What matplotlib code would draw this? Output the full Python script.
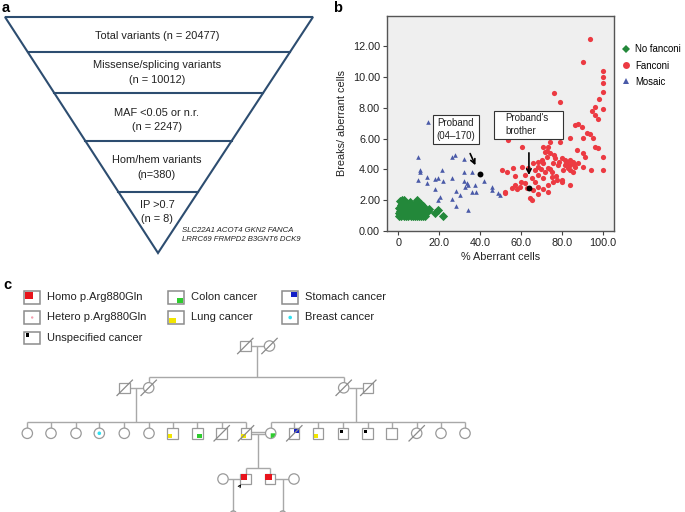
import numpy as np
import matplotlib.pyplot as plt
from matplotlib.patches import Rectangle, Circle, Wedge, Polygon
from matplotlib.lines import Line2D

plt.rcParams['font.family'] = ['Liberation Sans', 'DejaVu Sans']

# ---------------- data: panel a (filtering funnel) ----------------
funnel_text = [
    ["Total variants (n = 20477)"],
    ["Missense/splicing variants", "(n = 10012)"],
    ["MAF <0.05 or n.r.", "(n = 2247)"],
    ["Hom/hem variants", "(n=380)"],
    ["IP >0.7", "(n = 8)"],
]
candidate_genes = ["SLC22A1 ACOT4 GKN2 FANCA", "LRRC69 FRMPD2 B3GNT6 DCK9"]

# ---------------- data: panel b (chromosome breakage) ----------------
no_fanconi_x = [0.5, 1.5, 3, 4, 5, 6, 7, 8, 9, 10, 11, 12, 13,
                1, 2.5, 5, 7.5, 10, 12,
                0.5, 2, 3.5, 5, 6.5, 8, 9.5, 11, 12.5, 18,
                1, 2.5, 4, 5.5, 7, 8.5, 10, 11.5, 13, 14.5, 19.6,
                0.5, 2, 3.5, 5, 6.5, 8, 9.5, 11, 12.5, 15,
                3, 6, 9, 12, 1.5, 4.5, 7.5, 10.5, 2, 5, 8, 11,
                0.8, 1.8, 2.8, 5.7, 9, 22]
no_fanconi_y = [1.0, 1.0, 1.0, 1.0, 1.0, 1.0, 1.0, 1.0, 1.0, 1.0, 1.0, 1.0, 1.0,
                1.1, 1.1, 1.1, 1.1, 1.1, 1.1,
                1.2, 1.2, 1.2, 1.2, 1.2, 1.2, 1.2, 1.2, 1.2, 1.19,
                1.33, 1.33, 1.33, 1.33, 1.33, 1.33, 1.33, 1.33, 1.33, 1.3, 1.36,
                1.5, 1.5, 1.5, 1.5, 1.5, 1.5, 1.5, 1.5, 1.5, 1.45,
                1.6, 1.6, 1.6, 1.6, 1.67, 1.67, 1.67, 1.67, 1.75, 1.75, 1.75, 1.75,
                1.95, 2.0, 2.0, 1.85, 2.0, 0.97]

fanconi_x = [93.8, 90.1, 100, 100, 100, 100, 76.2, 79.2, 98.2, 96.3, 94.7, 100, 96.3, 97.9,
             86.5, 88.1, 89.8, 92.2, 93.8, 84.0, 90.5, 95.4, 53.8, 79.1, 71.0, 73.4, 60.4,
             96.2, 97.9, 87.3, 71.8, 74.2, 90.5, 91.3, 100, 72.6, 76.7, 79.9, 81.6, 84.0,
             85.6, 68.5, 66.1, 71.0, 75.9, 78.3, 81.6, 84.0, 86.5, 90.5, 94.3, 100, 50.6,
             53.0, 56.3, 60.4, 63.6, 68.5, 73.4, 66.9, 71.8, 75.0, 80.7, 84.0, 85.6, 62.0,
             68.5, 75.0, 65.2, 71.0, 77.5, 79.9, 66.9, 75.9, 84.0, 62.0, 57.1, 59.5, 55.5,
             68.5, 71.0, 52.2, 52.2, 66.1, 73.4, 68.5, 64.4, 65.2,
             69.3, 74.2, 72.5, 76.0, 82.0, 88.0, 83.0, 70.0, 77.0, 80.0, 73.0, 63.0, 58.0,
             60.0, 57.0, 78.5, 82.5, 86.0, 70.5, 74.0]
fanconi_y = [12.43, 10.98, 10.39, 10.0, 9.62, 8.99, 8.97, 8.38, 8.56, 8.02, 7.8, 7.89, 7.52, 7.24,
             6.87, 6.94, 6.77, 6.33, 6.27, 6.05, 6.01, 6.01, 5.9, 5.79, 5.47, 5.47, 5.47,
             5.47, 5.36, 5.25, 5.14, 5.04, 5.04, 4.82, 4.82, 4.82, 4.71, 4.71, 4.6, 4.6,
             4.5, 4.5, 4.39, 4.39, 4.39, 4.28, 4.28, 4.28, 4.17, 4.17, 3.96, 3.96, 3.96,
             3.85, 4.11, 4.17, 4.06, 4.17, 4.11, 3.96, 3.85, 3.85, 3.96, 3.96, 3.85, 3.63,
             3.63, 3.52, 3.42, 3.42, 3.31, 3.16, 3.16, 3.16, 2.98, 3.09, 2.98, 2.88, 2.77,
             2.88, 2.7, 2.55, 2.44, 2.66, 2.55, 2.38, 2.16, 2.01,
             6.12, 5.75, 5.2, 4.9, 4.4, 4.4, 4.1, 4.0, 3.6, 3.3, 3.0, 2.8, 2.7,
             3.2, 3.6, 4.5, 4.5, 4.35, 4.6, 4.0]

mosaic_x = [9.8, 27.7, 26.1, 32.1, 10.6, 10.4, 21.2, 32.1, 35.9, 9.8, 14.2, 14.2, 18.0, 19.6,
            22.0, 26.1, 32.1, 33.5, 32.6, 37.5, 34.2, 41.9, 18.0, 28.2, 36.2, 38.0, 20.4,
            19.6, 30.2, 26.1, 28.2, 34.2, 45.7, 45.7, 48.6, 49.8, 14.7]
mosaic_y = [4.82, 4.93, 4.82, 4.67, 3.96, 3.8, 3.96, 3.85, 3.85, 3.31, 3.52, 3.09, 3.35, 3.42,
            3.26, 3.46, 3.26, 3.09, 2.87, 2.98, 2.98, 3.26, 2.70, 2.59, 2.55, 2.55, 2.23,
            2.01, 2.32, 2.07, 1.64, 1.36, 2.83, 2.66, 2.48, 2.33, 7.09]

proband = (40.1, 3.70)
brother = (64.1, 2.81)

# ---------------- data: panel c (pedigree) ----------------
legend_items = [("Homo p.Arg880Gln", "homo"), ("Hetero p.Arg880Gln", "hetero"),
                ("Unspecified cancer", "unspec"), ("Colon cancer", "colon"),
                ("Lung cancer", "lung"), ("Stomach cancer", "stomach"),
                ("Breast cancer", "breast")]
# generation III: sex, deceased, phenotype
gen3 = [("F", 0, None), ("F", 0, None), ("F", 0, None), ("F", 0, "breast"), ("F", 0, None),
        ("F", 0, None), ("M", 0, "lung"), ("M", 0, "colon"), ("M", 1, None), ("M", 1, "lung"),
        ("F", 0, "colon"), ("M", 1, "stomach"), ("M", 0, "lung"), ("M", 0, "unspec"),
        ("M", 0, "unspec"), ("M", 0, None), ("F", 1, None), ("F", 0, None), ("F", 0, None)]
gen3_x = [27.3, 51, 76, 99.3, 124.3, 149, 172.7, 197.3, 221.7, 246,
          270.7, 294.3, 318.3, 343.3, 367.7, 391.7, 416.7, 441, 465]

mark_colors = {"homo": "#e8141c", "hetero": "#f4a0b0", "colon": "#2ecc2e", "lung": "#f2e600",
               "stomach": "#1420c8", "breast": "#30e0f0", "unspec": "black"}

LINE = "#a8a8a8"
EDGE = "#9a9a9a"
FUNNEL = "#2d4d70"

fig = plt.figure(figsize=(6.85, 5.12), dpi=100)
cv = fig.add_axes([0, 0, 1, 1])
cv.set_xlim(0, 685)
cv.set_ylim(512, 0)
cv.axis('off')

# ================= panel a =================
cv.text(2, 8, "a", fontsize=10.5, fontweight='bold', va='center', ha='left')
top_y, apex_y = 17, 253
left_x, right_x, apex_x = 5, 313, 158


def edge_x(y):
    f = (y - top_y) / (apex_y - top_y)
    return left_x + f * (apex_x - left_x), right_x - f * (right_x - apex_x)


cv.add_patch(Polygon([(left_x, top_y), (right_x, top_y), (apex_x, apex_y)], closed=True,
                     fill=False, ec=FUNNEL, lw=1.5, joinstyle='miter'))
cut_y = [52, 93, 141, 192]
for y in cut_y:
    xl, xr = edge_x(y)
    cv.plot([xl, xr], [y, y], color=FUNNEL, lw=1.5)

text_centres = [[36], [65, 80], [113, 127], [160, 175], [205, 219]]
for lines, ys in zip(funnel_text, text_centres):
    for s, y in zip(lines, ys):
        cv.text(157, y, s, fontsize=7.9, ha='center', va='center', color='#222222')
for i, g in enumerate(candidate_genes):
    cv.text(182, 230 + i * 9.5, g, fontsize=5.6, style='italic', ha='left', va='center',
            color='#222222')

# ================= panel b =================
cv.text(333, 8, "b", fontsize=10.5, fontweight='bold', va='center', ha='left')
ax = fig.add_axes([387 / 685, 1 - 231 / 512, 227 / 685, 215 / 512])
ax.set_facecolor('#efefef')
ax.scatter(no_fanconi_x, no_fanconi_y, marker='D', s=22, color='#23883a', lw=0, zorder=3)
ax.scatter(mosaic_x, mosaic_y, marker='^', s=11, color='#4a5aa8', lw=0, zorder=3)
ax.scatter(fanconi_x, fanconi_y, marker='o', s=14, color='#ec3a42', lw=0, zorder=3)
ax.scatter(*zip(proband, brother), marker='o', s=18, color='black', lw=0, zorder=4)
ax.set_xlim(-5.5, 105.5)
ax.set_ylim(0, 13.95)
ax.set_xticks([0, 20, 40, 60, 80, 100])
ax.set_xticklabels(["0", "20.0", "40.0", "60.0", "80.0", "100.0"])
ax.set_yticks(np.arange(0, 13, 2))
ax.set_yticklabels([f"{v:.2f}" for v in np.arange(0, 13, 2)])
ax.tick_params(labelsize=7.8, length=3, width=0.8, color='#444444', labelcolor='#222222', pad=2)
for sp in ax.spines.values():
    sp.set_color('#555555')
    sp.set_linewidth(1.0)
ax.set_xlabel("% Aberrant cells", fontsize=7.8, labelpad=3, color='#222222')
ax.set_ylabel("Breaks/ aberrant cells", fontsize=7.8, labelpad=4, color='#222222')

ax.add_patch(Rectangle((17, 5.64), 22.5, 1.88, fc='white', ec='#333333', lw=0.8, zorder=5))
ax.text(28.2, 6.58, "Proband\n(04\u2013170)", fontsize=7, ha='center', va='center',
        linespacing=1.3, zorder=6, color='#222222')
ax.add_patch(Rectangle((46.8, 5.97), 33.7, 1.81, fc='white', ec='#333333', lw=0.8, zorder=5))
ax.text(52.5, 6.9, "Proband's\nbrother", fontsize=7, ha='left', va='center',
        linespacing=1.3, zorder=6, color='#222222')
ax.annotate("", xy=(38.3, 4.1), xytext=(34.6, 5.19), zorder=6,
            arrowprops=dict(arrowstyle='->', lw=1.2, color='black', mutation_scale=8))
ax.annotate("", xy=(63.9, 3.45), xytext=(63.9, 5.25), zorder=6,
            arrowprops=dict(arrowstyle='->', lw=1.2, color='black', mutation_scale=8))

handles = [Line2D([], [], ls='', marker='D', ms=4.5, color='#23883a', mew=0),
           Line2D([], [], ls='', marker='o', ms=5, color='#ec3a42', mew=0),
           Line2D([], [], ls='', marker='^', ms=5, color='#4a5aa8', mew=0)]
ax.legend(handles, ["No fanconi", "Fanconi", "Mosaic"], loc='upper left',
          bbox_to_anchor=(1.03, 0.868), frameon=False, fontsize=6.9, handlelength=1.0,
          handletextpad=0.5, labelspacing=0.65, borderpad=0, borderaxespad=0)

# ================= panel c =================
cv.text(3, 285, "c", fontsize=10.5, fontweight='bold', va='center', ha='left')


def draw_mark(cx, cy, sex, mark, h):
    c = mark_colors.get(mark)
    if mark is None:
        return
    if mark in ("breast", "hetero"):
        cv.add_patch(Circle((cx, cy), 1.8 if mark == "breast" else 1.1, fc=c, ec='none', zorder=4))
        return
    if mark == "unspec":
        cv.add_patch(Rectangle((cx - h + 1.5, cy - h + 1.5), 3.2, 3.2, fc=c, ec='none', zorder=4))
        return
    if mark == "homo":
        cv.add_patch(Rectangle((cx - h + 0.6, cy - h + 0.6), h * 1.2, h * 1.1, fc=c, ec='none', zorder=4))
        return
    quad = {"lung": (-1, 1, 90, 180), "colon": (1, 1, 0, 90), "stomach": (1, -1, 270, 360)}[mark]
    if sex == "M":
        x0 = cx - h + 0.6 if quad[0] < 0 else cx + 0.2
        y0 = cy + 0.2 if quad[1] > 0 else cy - h + 0.6
        cv.add_patch(Rectangle((x0, y0), h - 0.8, h - 0.8, fc=c, ec='none', zorder=4))
    else:
        cv.add_patch(Wedge((cx, cy), h - 0.5, quad[2], quad[3], fc=c, ec='none', zorder=4))


def person(cx, cy, sex, dead=False, mark=None, size=10.4):
    h = size / 2
    if sex == "M":
        cv.add_patch(Rectangle((cx - h, cy - h), size, size, fc='white', ec=EDGE, lw=0.9, zorder=3))
    else:
        cv.add_patch(Circle((cx, cy), h, fc='white', ec=EDGE, lw=0.9, zorder=3))
    draw_mark(cx, cy, sex, mark, h)
    if dead:
        cv.plot([cx - h - 2.5, cx + h + 2.5], [cy + h + 2.5, cy - h - 2.5], color='#8a8a8a',
                lw=0.9, zorder=5)


def seg(xs, ys, lw=1.0):
    cv.plot(xs, ys, color=LINE, lw=lw, zorder=2, solid_capstyle='butt')


# legend
leg_cols = [24, 168, 282]
leg_rows = [297.3, 317.5, 338]
leg_pos = [(0, 0), (0, 1), (0, 2), (1, 0), (1, 1), (2, 0), (2, 1)]
for (label, key), (ci, ri) in zip(legend_items, leg_pos):
    bx, by = leg_cols[ci], leg_rows[ri]
    cv.add_patch(Rectangle((bx, by - 6.3), 16.5, 12.6, fc='white', ec='#8c8c8c', lw=1.1, zorder=3))
    c = mark_colors[key]
    if key == "homo":
        cv.add_patch(Rectangle((bx + 1.2, by - 5.1), 7.5, 6.5, fc=c, ec='none', zorder=4))
    elif key == "hetero":
        cv.add_patch(Circle((bx + 8.2, by), 1.2, fc=c, ec='none', zorder=4))
    elif key == "breast":
        cv.add_patch(Circle((bx + 8.2, by), 1.8, fc=c, ec='none', zorder=4))
    elif key == "unspec":
        cv.add_patch(Rectangle((bx + 1.8, by - 4.6), 3.6, 3.6, fc=c, ec='none', zorder=4))
    elif key == "colon":
        cv.add_patch(Rectangle((bx + 8.8, by + 0.2), 6.5, 5.0, fc=c, ec='none', zorder=4))
    elif key == "lung":
        cv.add_patch(Rectangle((bx + 1.2, by + 0.2), 6.5, 5.0, fc=c, ec='none', zorder=4))
    elif key == "stomach":
        cv.add_patch(Rectangle((bx + 8.8, by - 5.1), 6.5, 5.0, fc=c, ec='none', zorder=4))
    cv.text(bx + 23, by, label, fontsize=8, va='center', ha='left', color='#222222')

# generation I
g1y = 346
person(245.3, g1y, "M", dead=True)
person(269.5, g1y, "F", dead=True)
seg([250.5, 264.3], [g1y, g1y])
seg([257, 257], [g1y, 377])
seg([148.7, 343.7], [377, 377])

# generation II
g2y = 387.8
person(124.7, g2y, "M", dead=True)
person(148.7, g2y, "F", dead=True)
person(343.7, g2y, "F", dead=True)
person(368.3, g2y, "M", dead=True)
seg([148.7, 148.7], [377, g2y - 5.2])
seg([343.7, 343.7], [377, g2y - 5.2])
seg([129.9, 143.5], [g2y, g2y])
seg([348.9, 363.1], [g2y, g2y])
seg([136, 136], [g2y, 421.7])
seg([356, 356], [g2y, 421.7])

# generation III
g3y = 433.3
seg([gen3_x[0], gen3_x[9]], [421.7, 421.7])
seg([gen3_x[10], gen3_x[18]], [421.7, 421.7])
for x, (sex, dead, mark) in zip(gen3_x, gen3):
    seg([x, x], [421.7, g3y - 5.2])
    person(x, g3y, sex, dead=bool(dead), mark=mark)
seg([251.2, 265.5], [g3y - 1.1, g3y - 1.1], lw=1.0)
seg([251.2, 265.5], [g3y + 1.1, g3y + 1.1], lw=1.0)
seg([257.7, 257.7], [g3y + 1.1, 467.7])

# generation IV
g4y = 479
seg([245.7, 270], [467.7, 467.7])
seg([245.7, 245.7], [467.7, g4y - 5.2])
seg([270, 270], [467.7, g4y - 5.2])
person(223, g4y, "F")
person(245.7, g4y, "M", mark="homo")
person(270, g4y, "M", mark="homo")
person(294, g4y, "F")
seg([228.2, 240.5], [g4y, g4y])
seg([275.2, 288.8], [g4y, g4y])
seg([233.3, 233.3], [g4y, 512])
seg([282.7, 282.7], [g4y, 512])
cv.add_patch(Circle((233.3, 514), 3.2, fc='#bdbdbd', ec='#9a9a9a', lw=0.8, zorder=3))
cv.add_patch(Circle((282.7, 514), 3.2, fc='#bdbdbd', ec='#9a9a9a', lw=0.8, zorder=3))
cv.annotate("", xy=(241.2, 484.2), xytext=(238.5, 488),
            arrowprops=dict(arrowstyle='->', lw=0.8, color='black', mutation_scale=4))

fig.savefig("out.png", dpi=100, facecolor='white')
